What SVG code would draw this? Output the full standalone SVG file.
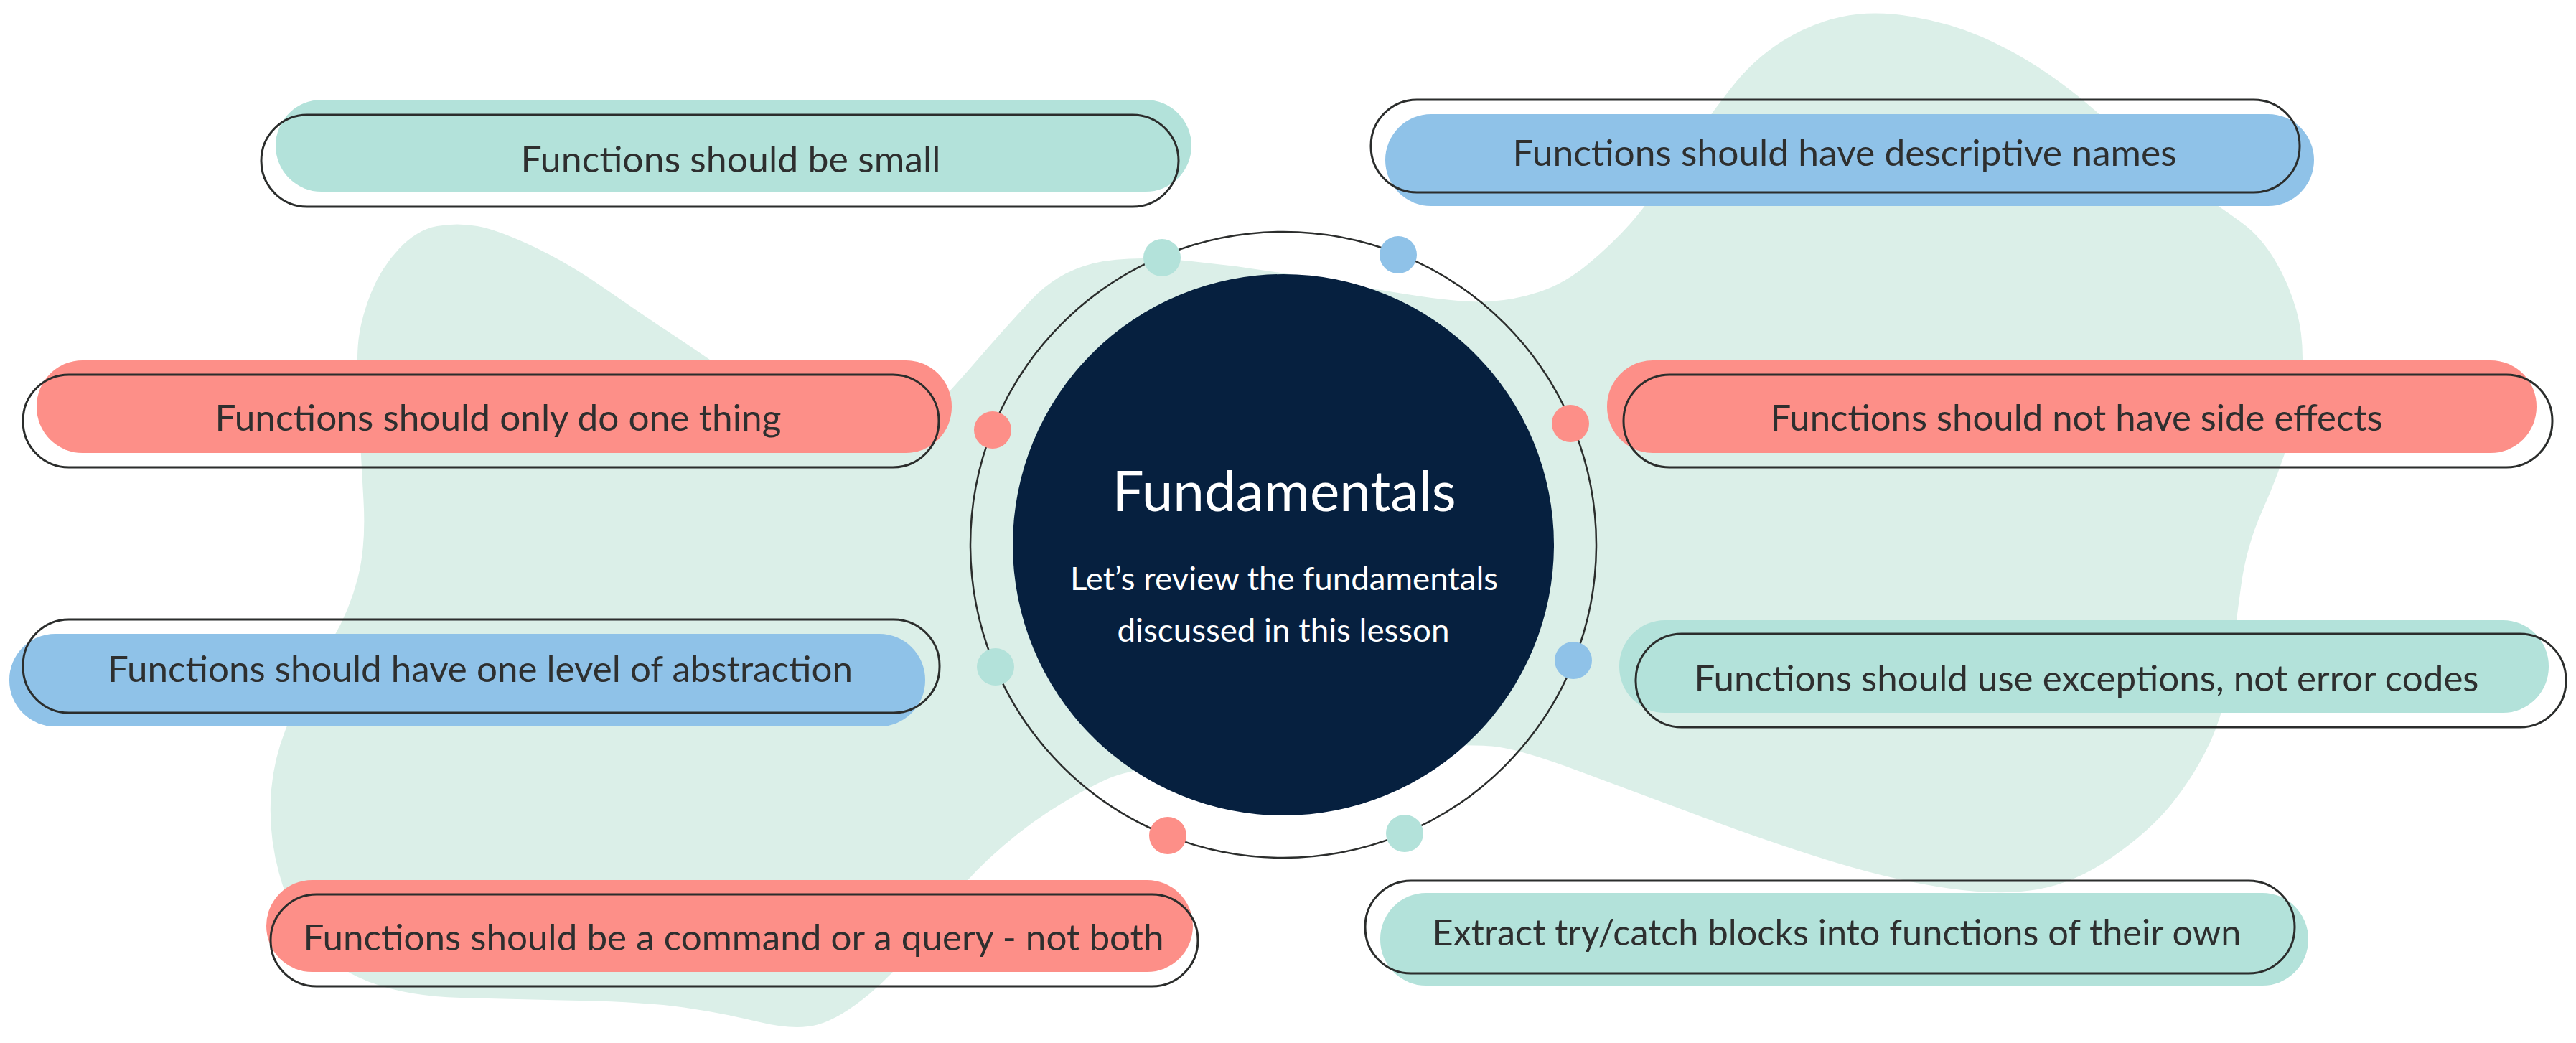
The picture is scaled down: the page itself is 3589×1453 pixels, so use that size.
<svg xmlns="http://www.w3.org/2000/svg" width="3589" height="1453" viewBox="0 0 3589 1453">
<style>
.outline{fill:none;stroke:#2b2d2c;stroke-width:3}
.teal{fill:#b3e2da}
.blue{fill:#8fc2e8}
.red{fill:#fd8f88}
.lbl{font-family:Lato,"Source Sans Pro","Liberation Sans",sans-serif;font-size:50px;fill:#2e2f2f;text-anchor:middle}
.ttl{font-family:Lato,"Source Sans Pro","Liberation Sans",sans-serif;fill:#ffffff;text-anchor:middle}
</style>
<rect width="3589" height="1453" fill="#ffffff"/>
<path id="blob" fill="#dbefe8" d="M 609,315 Q 637,310 665,315 Q 693,320 742,343 Q 791,366 843.5,402.5 Q 896,439 941.5,469 Q 987,499 1043.5,539.5 Q 1100,580 1145,595 Q 1190,610 1230,605 Q 1270,600 1297,572.5 Q 1324,545 1362,501 Q 1400,457 1436,418.5 Q 1472,380 1521,367.5 Q 1570,355 1656,363.5 Q 1742,372 1828,387.5 Q 1914,403 1977,412.5 Q 2040,422 2075,420 Q 2110,418 2145,406.5 Q 2180,395 2213,367.5 Q 2246,340 2270.5,312.5 Q 2295,285 2339.5,221.5 Q 2384,158 2413.5,120.5 Q 2443,83 2482,58 Q 2521,33 2565,23.5 Q 2609,14 2663,23 Q 2717,32 2761.5,51.5 Q 2806,71 2850,100.5 Q 2894,130 2943,175.5 Q 2992,221 3046,257 Q 3100,293 3125,311.5 Q 3150,330 3169.5,362.5 Q 3189,395 3199.5,432.5 Q 3210,470 3207.5,515 Q 3205,560 3190,610 Q 3175,660 3152.5,710 Q 3130,760 3122.5,815 Q 3115,870 3107.5,930 Q 3100,990 3078.5,1035.5 Q 3057,1081 3026,1119.5 Q 2995,1158 2943,1194 Q 2891,1230 2839,1239 Q 2787,1248 2714.5,1237.5 Q 2642,1227 2559,1202 Q 2476,1177 2372.5,1138.5 Q 2269,1100 2196.5,1073 Q 2124,1046 2087,1040.5 Q 2050,1035 1925,1042.5 Q 1800,1050 1690,1059 Q 1580,1068 1541,1086 Q 1502,1104 1460.5,1131 Q 1419,1158 1377.5,1196.5 Q 1336,1235 1294.5,1292.5 Q 1253,1350 1211.5,1384.5 Q 1170,1419 1139,1427.5 Q 1108,1436 1056.5,1423.5 Q 1005,1411 953,1403.5 Q 901,1396 808,1394 Q 715,1392 642,1390 Q 569,1388 517.5,1369 Q 466,1350 435,1311.5 Q 404,1273 388.5,1215.5 Q 373,1158 378,1100 Q 383,1042 411.5,986 Q 440,930 463.5,890 Q 487,850 498.5,805 Q 510,760 506.5,698 Q 503,636 499.5,569.5 Q 496,503 499.5,473 Q 503,443 517,408 Q 531,373 556,346.5 Q 581,320 609,315 Z"/>
<g id="connectors">
<circle cx="1788" cy="759" r="436" fill="none" stroke="#2b2d2c" stroke-width="2.5"/>
<circle class="teal" cx="1619" cy="359" r="26"/>
<circle class="blue" cx="1948" cy="355" r="26"/>
<circle class="red" cx="1383" cy="599" r="26"/>
<circle class="red" cx="2188" cy="590" r="26"/>
<circle class="teal" cx="1387" cy="929" r="26"/>
<circle class="blue" cx="2192" cy="920" r="26"/>
<circle class="red" cx="1627" cy="1164" r="26"/>
<circle class="teal" cx="1957" cy="1161" r="26"/>
</g>
<g id="center">
<circle cx="1788" cy="759" r="377" fill="#06203f"/>
<text class="ttl" x="1789" y="712" font-size="77" textLength="479" lengthAdjust="spacingAndGlyphs">Fundamentals</text>
<text class="ttl" x="1789" y="822" font-size="44" textLength="596" lengthAdjust="spacingAndGlyphs">Let’s review the fundamentals</text>
<text class="ttl" x="1788" y="894" font-size="44" textLength="463" lengthAdjust="spacingAndGlyphs">discussed in this lesson</text>
</g>
<g id="n1">
<rect class="teal" x="384" y="139" width="1276" height="128" rx="64"/>
<rect class="outline" x="364" y="160" width="1278" height="128" rx="64"/>
<text class="lbl" x="1018" y="240" textLength="585" lengthAdjust="spacingAndGlyphs">Functions should be small</text>
</g>
<g id="n2">
<rect class="blue" x="1930" y="159" width="1294" height="128" rx="64"/>
<rect class="outline" x="1910" y="139" width="1294" height="129" rx="64"/>
<text class="lbl" x="2570" y="231" textLength="925" lengthAdjust="spacingAndGlyphs">Functions should have descriptive names</text>
</g>
<g id="n3">
<rect class="red" x="51" y="502" width="1275" height="129" rx="64"/>
<rect class="outline" x="32" y="522" width="1276" height="129" rx="64"/>
<text class="lbl" x="694" y="600" textLength="789" lengthAdjust="spacingAndGlyphs">Functions should only do one thing</text>
</g>
<g id="n4">
<rect class="red" x="2239" y="502" width="1295" height="129" rx="64"/>
<rect class="outline" x="2262" y="522" width="1294" height="129" rx="64"/>
<text class="lbl" x="2893" y="600" textLength="853" lengthAdjust="spacingAndGlyphs">Functions should not have side effects</text>
</g>
<g id="n5">
<rect class="blue" x="13" y="883" width="1276" height="129" rx="64"/>
<rect class="outline" x="32" y="863" width="1277" height="130" rx="64"/>
<text class="lbl" x="669" y="950" textLength="1038" lengthAdjust="spacingAndGlyphs">Functions should have one level of abstraction</text>
</g>
<g id="n6">
<rect class="teal" x="2256" y="864" width="1295" height="129" rx="64"/>
<rect class="outline" x="2279" y="883" width="1296" height="130" rx="64"/>
<text class="lbl" x="2907" y="963" textLength="1093" lengthAdjust="spacingAndGlyphs">Functions should use exceptions, not error codes</text>
</g>
<g id="n7">
<rect class="red" x="371" y="1226" width="1291" height="128" rx="64"/>
<rect class="outline" x="377" y="1246" width="1292" height="128" rx="64"/>
<text class="lbl" x="1022" y="1324" textLength="1199" lengthAdjust="spacingAndGlyphs">Functions should be a command or a query - not both</text>
</g>
<g id="n8">
<rect class="teal" x="1923" y="1244" width="1293" height="129" rx="64"/>
<rect class="outline" x="1902" y="1227" width="1295" height="129" rx="64"/>
<text class="lbl" x="2559" y="1317" textLength="1127" lengthAdjust="spacingAndGlyphs">Extract try/catch blocks into functions of their own</text>
</g>
</svg>
